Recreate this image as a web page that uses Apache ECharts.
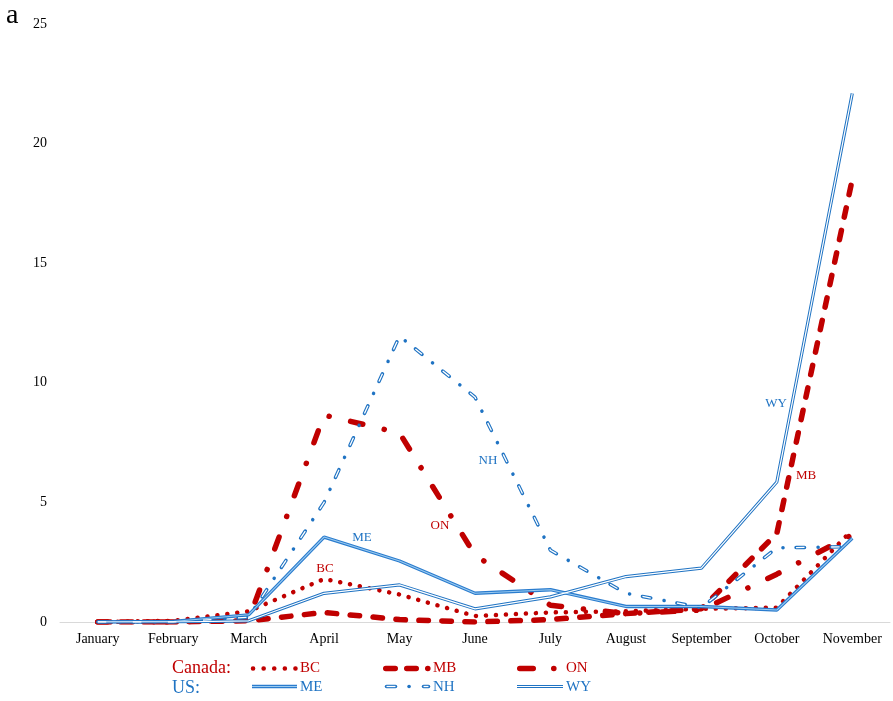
<!DOCTYPE html>
<html>
<head>
<meta charset="utf-8">
<script src="https://cdn.jsdelivr.net/npm/echarts@6/dist/echarts.min.js"></script>
<style>
html, body { margin: 0; padding: 0; background: #fff; }
#chart { width: 893px; height: 701px; }
</style>
</head>
<body>
<div id="chart"></div>
<script>
var months = ['January', 'February', 'March', 'April', 'May', 'June', 'July', 'August', 'September', 'October', 'November'];
var yMin = 0, yMax = 25, yStep = 5;

// Canada
var bc = [0, 0.05, 0.45, 1.8, 1.15, 0.25, 0.4, 0.45, 0.55, 0.6, 3.85];
var mb = [0, 0, 0.05, 0.4, 0.1, 0, 0.1, 0.35, 0.55, 3.7, 18.5];
var on = [0, 0, 0.1, 8.65, 7.9, 2.8, 0.7, 0.35, 0.5, 2.0, 3.65];
// US
var me = [0, 0.02, 0.3, 3.55, 2.55, 1.2, 1.35, 0.65, 0.65, 0.5, 3.5];
var nh = [0, 0, 0.2, 5.0, 11.95, 9.4, 3.0, 1.2, 0.6, 3.1, 3.15];
var wy = [0, 0, 0.05, 1.2, 1.55, 0.55, 1.05, 1.9, 2.25, 5.85, 22.1];

var red = '#c00000';
var blue = '#1f73c3';
var meEdge = '#2a7cce';
var meCore = '#9ccbf0';
var serif = '"Liberation Serif", "DejaVu Serif", serif';

// line styles, shared by the chart and the hand made legend
var bcStyle = { width: 4.5, type: [0.1, 9.9], cap: 'round' };
var mbStyle = { width: 5.5, type: [9.5, 13.5], cap: 'round' };
var onStyle = { width: 5.5, type: [12.5, 22, 0.1, 22], cap: 'round' };
var nhStyle = { width: 3.5, type: [8.5, 13.5, 0.1, 13], cap: 'round' };
var nhInner = { width: 1.3, type: [8.5, 26.6], cap: 'butt' };

var chart = echarts.init(document.getElementById('chart'));

function line(name, data, color, style, z) {
    return {
        name: name,
        type: 'line',
        data: data,
        symbol: 'none',
        showSymbol: false,
        color: color,
        z: z,
        silent: true,
        animation: false,
        lineStyle: Object.assign({ color: color }, style)
    }
}

var series = [
    line('BC', bc, red, bcStyle, 2),
    line('MB', mb, red, mbStyle, 2),
    line('ON', on, red, onStyle, 2),
    line('ME', me, meEdge, { width: 3.4 }, 3),
    line('ME_in', me, meCore, { width: 1.1 }, 4),
    line('NH', nh, blue, nhStyle, 3),
    line('NH_in', nh, '#ffffff', nhInner, 4),
    line('WY', wy, blue, { width: 3.2 }, 3),
    line('WY_in', wy, '#ffffff', { width: 1.2 }, 4)
];

// legend drawn by hand (line samples + text)
function seg(x1, x2, y, color, st) {
    return {
        type: 'line', silent: true,
        shape: { x1: x1, y1: y, x2: x2, y2: y },
        style: { stroke: color, lineWidth: st.width, lineDash: st.type || null, lineCap: st.cap || 'butt' }
    }
}
function txt(x, y, s, color, size) {
    return { type: 'text', x: x, y: y, style: { text: s, font: size + 'px ' + serif, fill: color, verticalAlign: 'middle' } }
}
var r1 = 668.5, r2 = 686.5;
var legendEls = [
    txt(172, r1, 'Canada:', red, 18),
    txt(172, r2 + 1.5, 'US:', blue, 18),
    seg(253, 296, r1, red, { width: 4.5, type: [0.1, 10.5], cap: 'round' }),
    txt(300, r1, 'BC', red, 15),
    seg(385.75, 428, r1, red, { width: 5.5, type: [9.5, 11.5, 9.5, 11.5, 0.1, 50], cap: 'round' }),
    txt(433, r1, 'MB', red, 15),
    seg(519.75, 554.1, r1, red, { width: 5.5, type: [13.5, 20.5, 0.1, 100], cap: 'round' }),
    txt(566, r1, 'ON', red, 15),
    seg(252, 297, r2, meEdge, { width: 3.4 }),
    seg(252, 297, r2, meCore, { width: 1.1 }),
    txt(300, r2 + 0.5, 'ME', blue, 15),
    seg(386.5, 395.5, r2, blue, { width: 3.5, cap: 'round' }),
    seg(386.5, 395.5, r2, '#fff', { width: 1.3 }),
    seg(409, 409.1, r2, blue, { width: 3.5, cap: 'round' }),
    seg(423.5, 428.5, r2, blue, { width: 3.5, cap: 'round' }),
    seg(423.5, 428.5, r2, '#fff', { width: 1.3 }),
    txt(433, r2 + 0.5, 'NH', blue, 15),
    seg(517, 563, r2, blue, { width: 3.2 }),
    seg(517, 563, r2, '#fff', { width: 1.2 }),
    txt(566, r2 + 0.5, 'WY', blue, 15)
];

// labels placed inside the plot
function tag(x, y, s, color) {
    return { type: 'text', x: x, y: y, silent: true, style: { text: s, font: '13px ' + serif, fill: color, align: 'center', verticalAlign: 'middle' } }
}
var tags = [
    tag(325, 569, 'BC', red),
    tag(362, 538, 'ME', blue),
    tag(440, 526, 'ON', red),
    tag(488, 461, 'NH', blue),
    tag(776, 404, 'WY', blue),
    tag(806, 476, 'MB', red)
];

var option = {
    backgroundColor: '#fff',
    animation: false,
    grid: { left: 60, right: 3, top: 24, bottom: 79 },
    xAxis: {
        type: 'category',
        data: months,
        boundaryGap: true,
        axisLine: { lineStyle: { color: '#d9d9d9', width: 1 } },
        axisTick: { show: false },
        axisLabel: { color: '#000', fontFamily: serif, fontSize: 14, margin: 10, interval: 0 }
    },
    yAxis: {
        type: 'value',
        min: yMin,
        max: yMax,
        interval: yStep,
        axisLine: { show: false },
        axisTick: { show: false },
        splitLine: { show: false },
        axisLabel: { color: '#000', fontFamily: serif, fontSize: 14, margin: 13 }
    },
    graphic: [
        { type: 'text', left: 6, top: 2, style: { text: 'a', font: '28px ' + serif, fill: '#000' } }
    ].concat(legendEls, tags),
    series: series
};

chart.setOption(option);
</script>
</body>
</html>
